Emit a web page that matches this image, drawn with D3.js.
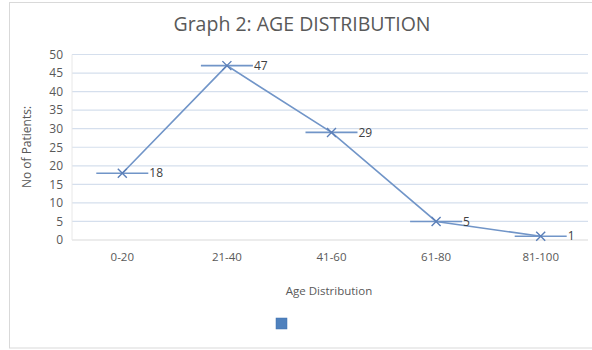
<!DOCTYPE html>
<html><head><meta charset="utf-8">
<script src="https://cdn.jsdelivr.net/npm/d3@7"></script>
<style>body{margin:0;background:#fff}svg{display:block}</style>
</head><body>
<svg id="c" width="592" height="350"></svg>
<script>
const categories = ["0-20","21-40","41-60","61-80","81-100"];
const patients = [18,47,29,5,1];
const yTicks = [0,5,10,15,20,25,30,35,40,45,50];
const titleText = "Graph 2: AGE DISTRIBUTION";
const xTitle = "Age Distribution";
const yTitle = "No of Patients:";

const svg = d3.select("#c");
const font = "'Open Sans', sans-serif";
const txt = "#595959";
const lineCol = "#7195c8";

// outer chart border
svg.append("rect").attr("x",9.5).attr("y",2.5).attr("width",600).attr("height",345.5)
  .attr("fill","#fff").attr("stroke","#d9d9d9");

const x = d3.scaleBand().domain(categories).range([70,593]);
const y = d3.scaleLinear().domain([0,50]).range([240,54.5]);

// gridlines
svg.append("g").selectAll("line").data(yTicks.filter(d=>d>0)).join("line")
  .attr("x1",72).attr("x2",588).attr("y1",d=>y(d)).attr("y2",d=>y(d))
  .attr("stroke","#d5dfed").attr("stroke-width",1.2);
svg.append("line").attr("x1",72).attr("x2",588).attr("y1",y(0)).attr("y2",y(0))
  .attr("stroke","#d9d9d9").attr("stroke-width",1);
svg.append("line").attr("x1",72).attr("x2",72).attr("y1",y(0)).attr("y2",y(50))
  .attr("stroke","#e8e8e8").attr("stroke-width",1);

// y axis
const yAxis = d3.axisLeft(y).tickValues(yTicks).tickSize(0).tickPadding(8);
const gy = svg.append("g").attr("transform","translate(71,0)").call(yAxis);
gy.select(".domain").remove();
gy.selectAll("text").attr("font-family",font).attr("font-size",12).attr("fill",txt);

// x axis
const xAxis = d3.axisBottom(x).tickSize(0).tickPadding(13);
const gx = svg.append("g").attr("transform",`translate(0,${y(0)})`).call(xAxis);
gx.select(".domain").remove();
gx.selectAll("text").attr("font-family",font).attr("font-size",11.5).attr("fill",txt);

// titles
svg.append("text").attr("x",302).attr("y",31).attr("text-anchor","middle")
  .attr("font-family",font).attr("font-size",19.5).attr("fill",txt).text(titleText);
svg.append("text").attr("x",329).attr("y",295).attr("text-anchor","middle")
  .attr("font-family",font).attr("font-size",11.5).attr("fill",txt).text(xTitle);
svg.append("text").attr("transform","translate(31,147) rotate(-90)").attr("text-anchor","middle")
  .attr("font-family",font).attr("font-size",12).attr("fill",txt).text(yTitle);

const cx = d => x(d) + x.bandwidth()/2;
const data = categories.map((c,i)=>({c, v: patients[i]}));

// horizontal bars at each point
svg.append("g").selectAll("line").data(data).join("line")
  .attr("x1",d=>cx(d.c)-26).attr("x2",d=>cx(d.c)+26)
  .attr("y1",d=>y(d.v)).attr("y2",d=>y(d.v))
  .attr("stroke",lineCol).attr("stroke-width",1.6);

// series line
svg.append("path").datum(data)
  .attr("d", d3.line().x(d=>cx(d.c)).y(d=>y(d.v)))
  .attr("fill","none").attr("stroke",lineCol).attr("stroke-width",1.6);

// X markers
const m = 4.5;
svg.append("g").selectAll("path").data(data).join("path")
  .attr("d",d=>{const px=cx(d.c), py=y(d.v);
    return `M${px-m},${py-m}L${px+m},${py+m}M${px-m},${py+m}L${px+m},${py-m}`;})
  .attr("stroke","#5b7fb8").attr("stroke-width",1.4).attr("fill","none");

// data labels
svg.append("g").selectAll("text").data(data).join("text")
  .attr("x",d=>cx(d.c)+27).attr("y",d=>y(d.v)).attr("dy","0.35em")
  .attr("font-family",font).attr("font-size",12).attr("fill","#404040").text(d=>d.v);

// legend
svg.append("rect").attr("x",276).attr("y",318).attr("width",11).attr("height",11)
  .attr("fill","#4f81bd").attr("stroke","#3f6fae").attr("stroke-width",0.5);
</script>
</body></html>
